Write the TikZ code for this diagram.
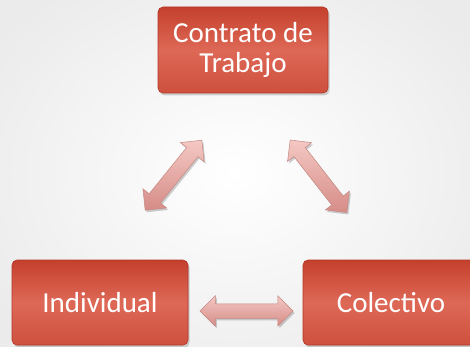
\documentclass[tikz,border=0pt]{standalone}
\usepackage{fontspec}
\setmainfont{Carlito}
\usetikzlibrary{shapes.arrows,shadows,positioning,calc}

\definecolor{boxtop}{RGB}{196,64,45}
\definecolor{boxmid}{RGB}{222,104,86}
\definecolor{boxbot}{RGB}{206,80,62}
\definecolor{boxline}{RGB}{178,54,38}
\definecolor{linktop}{RGB}{244,200,195}
\definecolor{linkbot}{RGB}{214,140,135}
\definecolor{linkline}{RGB}{196,136,130}

\tikzset{
  box/.style={rectangle, rounded corners=5pt, draw=boxline, line width=0.6pt,
    top color=boxtop, bottom color=boxbot, middle color=boxmid,
    minimum width=176pt, minimum height=85pt, align=center, text=white,
    font=\fontsize{29}{30}\selectfont,
    drop shadow={shadow xshift=1.5pt, shadow yshift=-2.5pt, opacity=0.35}},
  link/.style={double arrow, double arrow head extend=8pt, inner xsep=0pt, inner ysep=7pt,
    minimum width=30pt, draw=linkline, line width=0.5pt,
    top color=linktop, bottom color=linkbot,
    drop shadow={shadow xshift=1.5pt, shadow yshift=-2pt, opacity=0.4}}
}

\begin{document}
\begin{tikzpicture}[x=1pt,y=-1pt]
  \clip (0,0) rectangle (470,347);
  % background
  \shade[inner color=white, outer color=black!8] (-60,-60) rectangle (530,407);

  \node[box, minimum width=170pt, minimum height=86pt] (contrato) at (243,50) {Contrato de\\Trabajo};
  \node[box] (individual) at (100,302.5) {Individual};
  \node[box] (colectivo) at (391,302.5) {Colectivo};

  % links between the boxes
  \node[link, minimum height=90pt, rotate=51] (linkL) at ($(contrato)!0.5!(individual)+(2,-1)$) {};
  \node[link, minimum height=92pt, rotate=-52] (linkR) at ($(contrato)!0.5!(colectivo)+(1.5,0)$) {};
  \node[link, minimum height=93pt] (linkH) at ($(individual)!0.5!(colectivo)+(1,8.5)$) {};
\end{tikzpicture}
\end{document}
